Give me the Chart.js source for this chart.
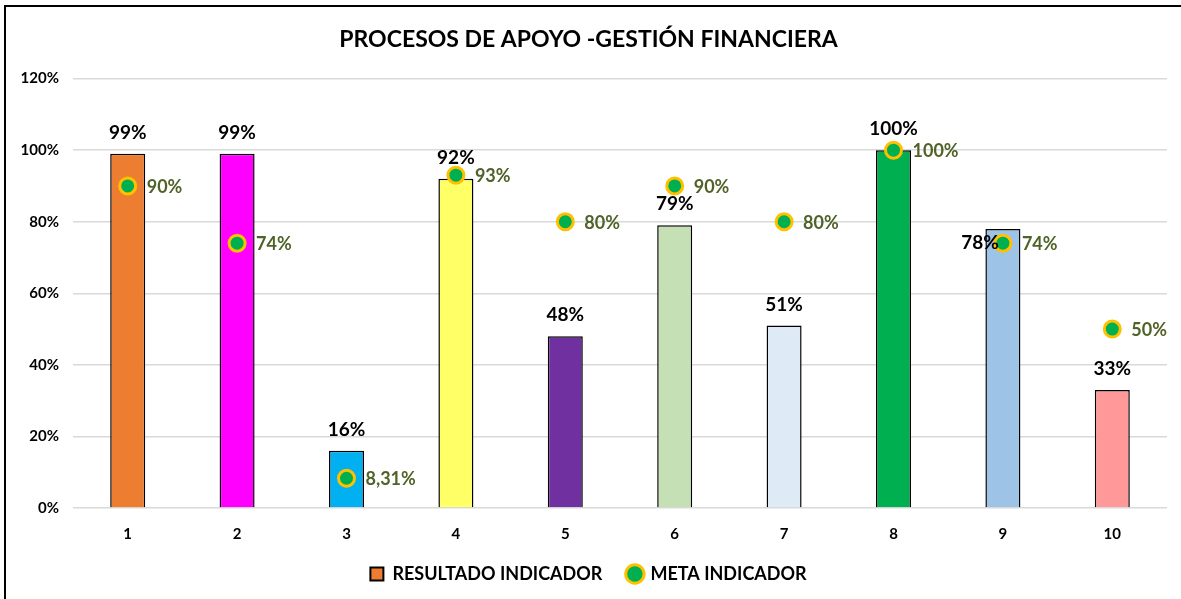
<!DOCTYPE html>
<html>
<head>
  <title>Procesos de apoyo</title>
  <script src="https://cdn.jsdelivr.net/npm/chart.js"></script>
  <style>
    body {
      margin: 0;
      background: #fff;
    }
    .frame {
      position: absolute;
      left: 4px;
      top: 5px;
      width: 1190px;
      height: 610px;
      border: 2px solid #000;
      box-sizing: border-box;
    }
    .wrap {
      position: absolute;
      left: 0;
      top: 0;
      width: 1181px;
      height: 599px;
    }
  </style>
</head>
<body>
  <div class="frame"></div>
  <div class="wrap">
    <canvas id="chartCanvas"></canvas>
  </div>

  <script>
    // values
    const categories = ['1', '2', '3', '4', '5', '6', '7', '8', '9', '10'];
    const resultado = [99, 99, 16, 92, 48, 79, 51, 100, 78, 33];
    const meta = [90, 74, 8.31, 93, 80, 90, 80, 100, 74, 50];
    const yTicks = [0, 20, 40, 60, 80, 100, 120];

    const barColors = ['#ED7D31', '#FF00FF', '#00B0F0', '#FFFF66', '#7030A0',
                       '#C5E0B4', '#DEEBF7', '#00B050', '#9DC3E6', '#FF9999'];
    const FONT = 'Lato, "Liberation Sans", sans-serif';

    function pct(v) {
      return String(v).replace('.', ',') + '%';
    }

    // draws the value labels next to bars and points
    const valueLabels = {
      id: 'valueLabels',
      afterDatasetsDraw(chart) {
        const ctx = chart.ctx;
        ctx.save();
        ctx.textBaseline = 'middle';

        const barMeta = chart.getDatasetMeta(0);
        ctx.font = 'bold 19px ' + FONT;
        ctx.fillStyle = '#000';
        barMeta.data.forEach((bar, i) => {
          if (i === 8) {
            // this one sits left of the point in the original
            const p = chart.getDatasetMeta(1).data[i];
            ctx.textAlign = 'right';
            ctx.fillText(pct(resultado[i]), p.x - 4, p.y);
          } else {
            ctx.textAlign = 'center';
            ctx.fillText(pct(resultado[i]), bar.x, bar.y - 21);
          }
        });

        const pointMeta = chart.getDatasetMeta(1);
        ctx.font = 'bold 18px ' + FONT;
        ctx.fillStyle = '#4F6228';
        ctx.textAlign = 'left';
        pointMeta.data.forEach((p, i) => {
          ctx.fillText(pct(meta[i]), p.x + 19, p.y + 1);
        });
        ctx.restore();
      }
    };

    const ctx = document.getElementById('chartCanvas').getContext('2d');
    const chart = new Chart(ctx, {
      type: 'bar',
      data: {
        labels: categories,
        datasets: [
          {
            label: 'RESULTADO INDICADOR',
            data: resultado,
            backgroundColor: barColors,
            borderColor: '#000',
            borderWidth: 1.5,
            barPercentage: 0.32,
            categoryPercentage: 1,
            order: 2
          },
          {
            type: 'line',
            label: 'META INDICADOR',
            data: meta,
            showLine: false,
            pointRadius: 8,
            pointHoverRadius: 8,
            pointBackgroundColor: '#00B050',
            pointBorderColor: '#FFC000',
            pointBorderWidth: 3,
            order: 1
          }
        ]
      },
      options: {
        responsive: true,
        maintainAspectRatio: false,
        animation: false,
        layout: {
          padding: { top: 5, left: 10, right: 14, bottom: 6 }
        },
        scales: {
          x: {
            grid: { display: false },
            border: { display: false },
            ticks: {
              color: '#000',
              font: { family: FONT, size: 15, weight: 'bold' },
              padding: 9
            },
            afterFit(scale) {
              scale.height = 31;
            }
          },
          y: {
            min: 0,
            max: 120,
            afterBuildTicks(scale) {
              scale.ticks = yTicks.map(v => ({ value: v }));
            },
            grid: {
              color: '#D9D9D9',
              lineWidth: 1.5,
              drawTicks: false
            },
            border: { display: false },
            ticks: {
              color: '#000',
              font: { family: FONT, size: 15, weight: 'bold' },
              padding: 14,
              callback: v => v + '%'
            },
            afterFit(scale) {
              scale.width = 63;
            }
          }
        },
        plugins: {
          title: {
            display: true,
            text: 'PROCESOS DE APOYO -GESTIÓN FINANCIERA',
            color: '#000',
            font: { family: FONT, size: 23, weight: 'bold' },
            padding: { top: 21, bottom: 25 }
          },
          legend: {
            position: 'bottom',
            labels: {
              color: '#000',
              font: { family: FONT, size: 18, weight: 'bold' },
              usePointStyle: true,
              boxWidth: 13,
              boxHeight: 13,
              padding: 26,
              generateLabels() {
                return [
                  {
                    text: 'RESULTADO INDICADOR',
                    fillStyle: '#ED7D31',
                    strokeStyle: '#000',
                    lineWidth: 2,
                    pointStyle: 'rect',
                    datasetIndex: 0
                  },
                  {
                    text: 'META INDICADOR',
                    fillStyle: '#00B050',
                    strokeStyle: '#FFC000',
                    lineWidth: 3,
                    pointStyle: 'circle',
                    datasetIndex: 1
                  }
                ];
              }
            }
          },
          tooltip: { enabled: false }
        }
      },
      plugins: [valueLabels]
    });
  </script>
</body>
</html>
